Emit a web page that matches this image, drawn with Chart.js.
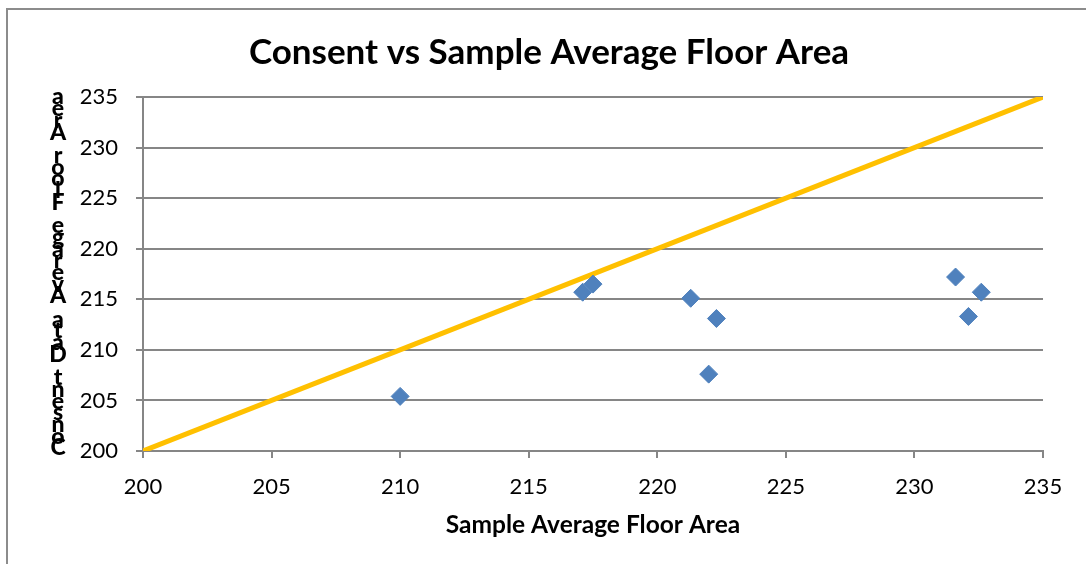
<!DOCTYPE html>
<html>
<head>
<meta charset="utf-8">
<script src="https://cdn.jsdelivr.net/npm/chart.js@4"></script>
<style>
  html, body { margin: 0; padding: 0; background: #fff; }
  #wrap { width: 1086px; height: 564px; position: relative; }
</style>
</head>
<body>
<div id="wrap"><canvas id="chartCanvas" width="1086" height="564"></canvas></div>
<script>
// Data
const sampleArea = [210.0, 217.1, 217.5, 221.3, 222.3, 222.0, 231.6, 232.1, 232.6];
const consentArea = [205.4, 215.7, 216.5, 215.1, 213.1, 207.6, 217.2, 213.3, 215.7];
const lineX = [200, 235];
const lineY = [200, 235];
const axisMin = 200;
const axisMax = 235;
const tickStep = 5;

const chartTitle = 'Consent vs Sample Average Floor Area';
const xTitle = 'Sample Average Floor Area';
const yTitle = 'Consent Data Average Floor Area';

const gridGrey = '#868686';
const fontFamily = 'Lato, "Open Sans", sans-serif';

// outer frame of the chart object + main title
const framePlugin = {
    id: 'frame',
    beforeDraw(chart) {
        const ctx = chart.ctx;
        ctx.save();
        ctx.strokeStyle = '#8c8c8c';
        ctx.lineWidth = 2;
        ctx.strokeRect(7, 9, 1300, 1000);
        ctx.restore();
    },
    afterDraw(chart) {
        const ctx = chart.ctx;
        ctx.save();
        ctx.font = 'bold 35px ' + fontFamily;
        ctx.fillStyle = '#000';
        ctx.textAlign = 'center';
        ctx.textBaseline = 'middle';
        ctx.fillText(chartTitle, 549, 53);
        ctx.restore();
    }
};

// y-axis title: characters stacked one per row, in reverse order
const stackedTitlePlugin = {
    id: 'stackedTitle',
    afterDraw(chart) {
        const ctx = chart.ctx;
        const chars = yTitle.split('').reverse();
        const top = chart.chartArea.top;
        const bottom = chart.chartArea.bottom - 3;
        const step = (bottom - top) / (chars.length - 1);
        ctx.save();
        ctx.font = '900 23px ' + fontFamily;
        ctx.fillStyle = '#000';
        ctx.textAlign = 'center';
        ctx.textBaseline = 'middle';
        chars.forEach((c, i) => {
            ctx.fillText(c, 58, top + i * step);
        });
        ctx.restore();
    }
};

const points = sampleArea.map((x, i) => ({ x: x, y: consentArea[i] }));
const linePoints = lineX.map((x, i) => ({ x: x, y: lineY[i] }));

const ctx = document.getElementById('chartCanvas').getContext('2d');
const chart = new Chart(ctx, {
    type: 'scatter',
    data: {
        datasets: [
            {
                label: 'Samples',
                data: points,
                pointStyle: 'rectRot',
                pointRadius: 9,
                pointBackgroundColor: '#4F81BD',
                pointBorderColor: '#4F81BD',
                pointBorderWidth: 1,
                order: 1
            },
            {
                type: 'line',
                label: 'y = x',
                data: linePoints,
                borderColor: '#FFC000',
                borderWidth: 5,
                pointRadius: 0,
                fill: false,
                order: 2
            }
        ]
    },
    options: {
        responsive: false,
        animation: false,
        layout: { padding: { left: 0, right: 43, top: 97, bottom: 0 } },
        plugins: {
            legend: { display: false },
            tooltip: { enabled: false },
            title: { display: false }
        },
        scales: {
            x: {
                type: 'linear',
                min: axisMin,
                max: axisMax,
                afterFit(scale) { scale.height = 113; },
                ticks: {
                    stepSize: tickStep,
                    color: '#000',
                    padding: 16,
                    font: { family: fontFamily, size: 22 }
                },
                grid: {
                    drawOnChartArea: false,
                    drawTicks: true,
                    tickLength: 7,
                    color: gridGrey,
                    lineWidth: 2
                },
                border: { display: true, color: gridGrey, width: 2 },
                title: {
                    display: true,
                    text: xTitle,
                    color: '#000',
                    font: { family: fontFamily, size: 24.5, weight: 'bold', lineHeight: 1.2 },
                    padding: { top: 0, bottom: 24 }
                }
            },
            y: {
                type: 'linear',
                min: axisMin,
                max: axisMax,
                afterFit(scale) { scale.width = 143; },
                ticks: {
                    stepSize: tickStep,
                    color: '#000',
                    padding: 18,
                    font: { family: fontFamily, size: 22 }
                },
                grid: {
                    drawOnChartArea: true,
                    drawTicks: true,
                    tickLength: 7,
                    color: gridGrey,
                    lineWidth: 2
                },
                border: { display: true, color: gridGrey, width: 2 },
                title: { display: false }
            }
        }
    },
    plugins: [framePlugin, stackedTitlePlugin]
});
</script>
</body>
</html>
